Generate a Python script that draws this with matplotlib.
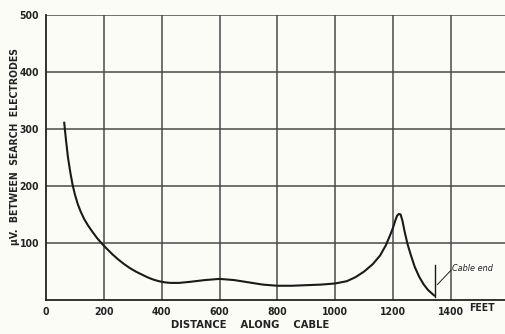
import matplotlib.pyplot as plt
import numpy as np

# curve (feet, microvolts)
distance = [63, 69, 76, 84, 92, 100, 110, 120, 132, 145, 160, 176, 193,
            210, 230, 250, 270, 290, 310, 330, 350, 370, 390, 410, 430,
            460, 500, 550, 600, 650, 700, 750, 800, 850, 900,
            950, 1000, 1040, 1070, 1100, 1130, 1155, 1175, 1190, 1200, 1208, 1214,
            1220, 1226, 1232, 1240, 1250, 1262, 1275, 1290, 1305, 1320, 1333, 1342]
microvolts = [311, 281, 250, 224, 202, 185, 168, 155, 142, 131, 120, 109, 99,
              90, 80, 71, 63, 56, 50, 45, 40, 36, 33, 31, 30,
              30, 32, 35, 37, 35, 31, 27, 25, 25, 26,
              27, 29, 33, 40, 50, 63, 78, 96, 114, 127, 140, 148,
              151, 150, 140, 120, 98, 78, 58, 41, 28, 18, 12, 8]

x_ticks = [0, 200, 400, 600, 800, 1000, 1200, 1400]
y_ticks = [100, 200, 300, 400, 500]
cable_end = 1345

BG = '#fcfcf6'
font = dict(family='DejaVu Sans', stretch='condensed', weight='bold')

fig = plt.figure(figsize=(5.05, 3.34), dpi=100, facecolor=BG)
ax = fig.add_axes([46 / 505, 34 / 334, 459 / 505, 285 / 334], facecolor=BG)

ax.set_xlim(0, 1587)
ax.set_ylim(0, 500)

for x in x_ticks[1:]:
    ax.axvline(x, color='#4a4a4a', lw=1.1, zorder=1)
for y in y_ticks:
    ax.axhline(y, color='#4a4a4a', lw=1.1, zorder=1)

ax.plot(distance, microvolts, color='#1a1a1a', lw=1.5, zorder=3)

# cable end marker
ax.plot([cable_end, cable_end], [5, 61], color='#1a1a1a', lw=1.0, zorder=3)
ax.plot([cable_end + 8, 1400], [27, 52], color='#1a1a1a', lw=0.7, zorder=3)
ax.text(1405, 55, 'Cable end', fontsize=6.5, style='italic', color='#222222',
        va='center', ha='left', family='DejaVu Sans', stretch='condensed')

for s in ['top', 'right']:
    ax.spines[s].set_visible(False)
for s in ['left', 'bottom']:
    ax.spines[s].set_color('#222222')
    ax.spines[s].set_linewidth(1.3)

ax.set_xticks(x_ticks)
ax.set_xticklabels([str(v) for v in x_ticks], **font)
ax.set_yticks(y_ticks)
ax.set_yticklabels([str(v) for v in y_ticks], **font)
ax.tick_params(length=0, labelsize=7.5, colors='#222222', pad=5)

fig.text(482 / 505, 1 - 308 / 334, 'FEET', ha='center', va='center',
         fontsize=7.5, color='#222222', **font)
fig.text(250 / 505, 1 - 325 / 334, 'DISTANCE    ALONG    CABLE', ha='center',
         va='center', fontsize=8, color='#222222', **font)
fig.text(15 / 505, 1 - 147 / 334, 'μV.  BETWEEN  SEARCH  ELECTRODES',
         rotation=90, ha='center', va='center', fontsize=7.5, color='#222222', **font)

fig.savefig('out.png', dpi=100, facecolor=BG)
